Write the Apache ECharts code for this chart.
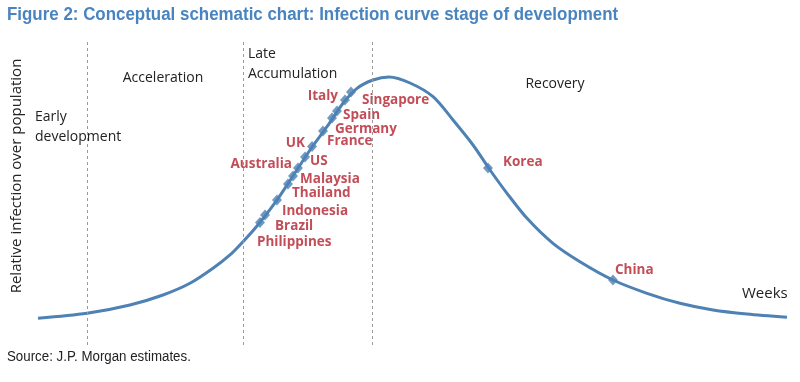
<!DOCTYPE html>
<html>
<head>
<meta charset="utf-8">
<script src="https://cdn.jsdelivr.net/npm/echarts@6/dist/echarts.min.js"></script>
<style>
html,body{margin:0;padding:0;background:#fff;}
#chart{width:800px;height:382px;}
</style>
</head>
<body>
<div id="chart"></div>
<script>
// Schematic curve (x: relative time 0-100, y: relative infection 0-100)
const curveX = [0.00, 6.52, 12.23, 16.62, 20.21, 23.27, 25.53, 27.26, 29.12, 31.78, 33.91, 36.17, 38.43, 40.56, 42.42, 44.55, 46.68, 49.47, 52.53, 55.19, 57.85, 60.11, 62.37, 65.03, 68.48, 72.07, 76.46, 80.98, 85.37, 89.76, 94.28, 99.60];
const curveY = [8.75, 10.39, 13.11, 16.39, 20.23, 25.15, 29.51, 33.87, 39.02, 47.54, 55.41, 63.93, 71.57, 79.25, 84.16, 86.89, 87.87, 85.90, 81.41, 73.77, 65.57, 57.38, 49.74, 41.54, 33.34, 27.31, 21.31, 16.95, 13.67, 11.48, 10.16, 9.08];

// Country positions on the curve
const countries = ['Philippines', 'Brazil', 'Indonesia', 'Thailand', 'Malaysia', 'Australia', 'US', 'UK', 'France', 'Germany', 'Spain', 'Italy', 'Singapore', 'Korea', 'China'];
const countryX = [29.52, 30.19, 31.78, 33.24, 33.91, 34.57, 35.51, 36.44, 37.90, 39.10, 39.76, 40.82, 41.62, 59.84, 76.46];
const countryY = [40.16, 42.62, 47.54, 52.79, 55.41, 58.03, 61.64, 65.08, 70.16, 74.43, 76.72, 80.33, 82.95, 58.03, 21.31];

// Stage boundaries (dashed lines)
const stageBoundaries = [6.52, 27.26, 44.41];

const titleText = 'Figure 2: Conceptual schematic chart: Infection curve stage of development';
const sourceText = 'Source: J.P. Morgan estimates.';
const yAxisTitle = 'Relative infection over population';
const xAxisTitle = 'Weeks';

// label placement styles (presentation only)
const labelStyle = {
  Philippines: ['left', -3, 20], Brazil: ['left', 10, 11], Indonesia: ['left', 5, 11],
  Thailand: ['left', 4, 9], Malaysia: ['left', 7, 3], Australia: ['right', -6, -4],
  US: ['left', 5, 4], UK: ['right', -7, -3.5], France: ['left', 4, 10],
  Germany: ['left', 3, 11], Spain: ['left', 6, 4], Italy: ['right', -7, -4],
  Singapore: ['left', 11, 8], Korea: ['left', 15, -6], China: ['left', 2, -10]
};

const lineColor = '#4e81b4';
const redColor = '#b3212d';
const font = '"Open Sans", "Noto Sans", sans-serif';

const chart = echarts.init(document.getElementById('chart'), null, {renderer: 'canvas'});

const curveData = curveX.map((x, i) => [x, curveY[i]]);
const pointData = countries.map((c, i) => {
  const s = labelStyle[c];
  return {
    name: c,
    value: [countryX[i], countryY[i]],
    label: {align: s[0], offset: [s[1], s[2]]}
  };
});

chart.setOption({
  animation: false,
  backgroundColor: '#fff',
  grid: {left: 38, right: 10, top: 40, bottom: 37},
  xAxis: {type: 'value', min: 0, max: 100, show: false},
  yAxis: {type: 'value', min: 0, max: 100, show: false},
  series: [
    {
      type: 'line',
      data: curveData,
      smooth: 0.3,
      symbol: 'none',
      lineStyle: {color: lineColor, width: 3},
      z: 2,
      markLine: {
        silent: true,
        symbol: 'none',
        label: {show: false},
        lineStyle: {color: '#9a9a9a', type: [3, 3], width: 1},
        data: stageBoundaries.map(v => ({xAxis: v}))
      }
    },
    {
      type: 'scatter',
      data: pointData,
      symbol: 'diamond',
      symbolSize: [10, 11],
      itemStyle: {color: lineColor},
      z: 3,
      label: {
        show: true,
        position: 'inside',
        verticalAlign: 'middle',
        formatter: '{b}',
        color: redColor,
        fontFamily: font,
        fontSize: 13.5,
        fontWeight: 'bold'
      }
    }
  ],
  graphic: [
    {type: 'text', left: 7, top: 6, scaleX: 0.94, style: {text: titleText, fill: '#4a84bf', font: 'bold 18px "Liberation Sans", Arial, sans-serif'}},
    {type: 'text', x: 7, y: 357, scaleX: 0.95, style: {text: sourceText, fill: '#222', font: '14px "Liberation Sans", Arial, sans-serif', verticalAlign: 'middle'}},
    {type: 'text', x: 17, y: 176, rotation: Math.PI / 2, style: {text: yAxisTitle, fill: '#222', font: '15px ' + font, align: 'center', verticalAlign: 'middle'}},
    {type: 'text', x: 742, y: 294, style: {text: xAxisTitle, fill: '#222', font: '15px ' + font, verticalAlign: 'middle'}},
    {type: 'text', x: 35, y: 107, style: {text: 'Early\ndevelopment', fill: '#222', font: '14px ' + font, lineHeight: 20, verticalAlign: 'top'}},
    {type: 'text', x: 163, y: 78, style: {text: 'Acceleration', fill: '#222', font: '14px ' + font, align: 'center', verticalAlign: 'middle'}},
    {type: 'text', x: 248, y: 44, style: {text: 'Late\nAccumulation', fill: '#222', font: '14px ' + font, lineHeight: 20, verticalAlign: 'top'}},
    {type: 'text', x: 555, y: 84, style: {text: 'Recovery', fill: '#222', font: '14px ' + font, align: 'center', verticalAlign: 'middle'}}
  ]
});
</script>
</body>
</html>
